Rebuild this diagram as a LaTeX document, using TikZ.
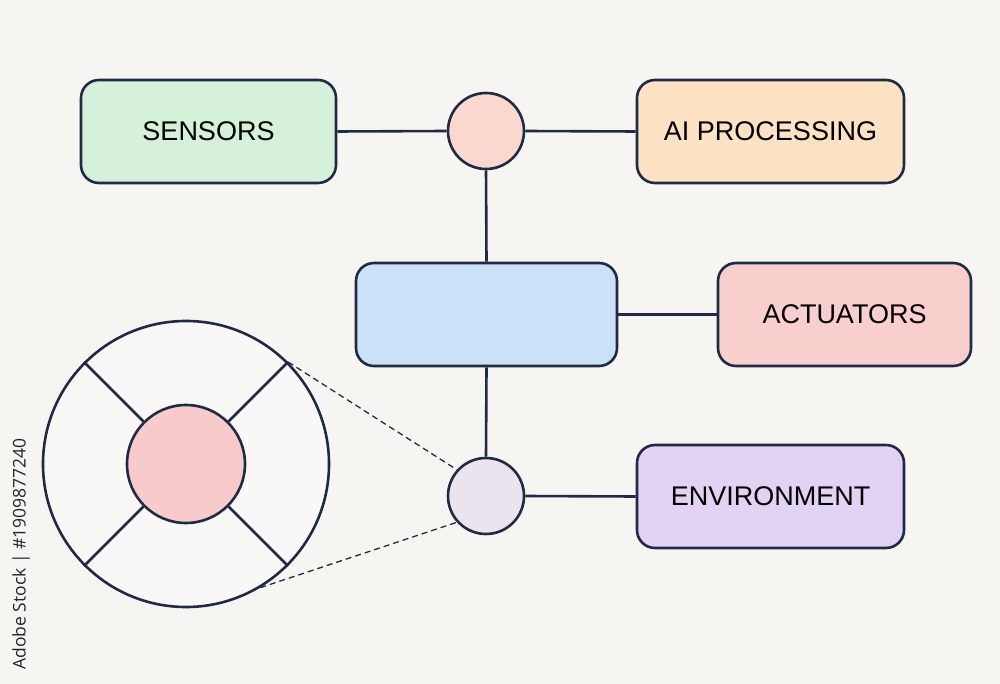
\documentclass[tikz,border=0pt]{standalone}
\usepackage{fontspec}
\setmainfont{Liberation Sans}
\newfontfamily\wmfont{Open Sans}
\begin{document}
\begin{tikzpicture}[x=1pt,y=-1pt,
  edge/.style={draw=navy,line width=2.6pt},
  boxnode/.style={draw=navy,line width=2.6pt,rounded corners=18pt,minimum height=103pt,inner sep=0pt,font=\fontsize{27}{31}\selectfont,text=black},
  dot/.style={circle,draw=navy,line width=2.6pt,minimum size=76pt,inner sep=0pt},
  dashlink/.style={draw=navy,line width=1.3pt,dash pattern=on 6pt off 4pt}]
\definecolor{navy}{HTML}{1F2B45}
\definecolor{bg}{HTML}{F7F5F1}
\definecolor{cgreen}{HTML}{D6F1DA}
\definecolor{cpeach}{HTML}{FAD8CD}
\definecolor{corange}{HTML}{FDE2C3}
\definecolor{cblue}{HTML}{CAE1F8}
\definecolor{cred}{HTML}{F8CFCD}
\definecolor{clav}{HTML}{EBE3EE}
\definecolor{cpurple}{HTML}{E2D2F3}
\definecolor{cwhite}{HTML}{F9F8F7}
\definecolor{cpink}{HTML}{F7CBCB}
\fill[bg] (0,0) rectangle (1000,684);
\useasboundingbox (0,0) rectangle (1000,684);
% boxes
\node[boxnode,fill=cgreen,minimum width=255pt] (sensors) at (208.5,131.5) {SENSORS};
\node[boxnode,fill=corange,minimum width=267pt] (ai) at (770.5,131.5) {AI PROCESSING};
\node[boxnode,fill=cblue,minimum width=261pt] (core) at (486.5,314.5) {};
\node[boxnode,fill=cred,minimum width=253pt] (act) at (844.5,314.5) {ACTUATORS};
\node[boxnode,fill=cpurple,minimum width=267pt] (env) at (770.5,496.5) {ENVIRONMENT};
% junction circles
\node[dot,fill=cpeach] (top) at (486,131) {};
\node[dot,fill=clav] (bot) at (486,496) {};
% connectors
\draw[edge] (sensors.east) -- (top.west);
\draw[edge] (top.east) -- (ai.west);
\draw[edge] (top.south) -- (core.north);
\draw[edge] (core.east) -- (act.west);
\draw[edge] (core.south) -- (bot.north);
\draw[edge] (bot.east) -- (env.west);
% magnified view
\node[circle,draw=navy,line width=2.6pt,fill=cwhite,minimum size=286pt,inner sep=0pt] (big) at (186,464) {};
\node[circle,draw=navy,line width=2.6pt,fill=cpink,minimum size=118pt,inner sep=0pt] (inner) at (186,464) {};
\foreach \a in {45,135,225,315}
  \draw[edge] (inner.\a) -- (big.\a);
\draw[dashlink] (big.45) -- (bot.138);
\draw[dashlink] (big.-59) -- (bot.222);
% side label
\node[rotate=90,text=black!85,font=\wmfont\fontsize{17.5}{20}\selectfont,inner sep=0pt] (stock) at (21,554) {Adobe Stock | \#1909877240};
\end{tikzpicture}
\end{document}
